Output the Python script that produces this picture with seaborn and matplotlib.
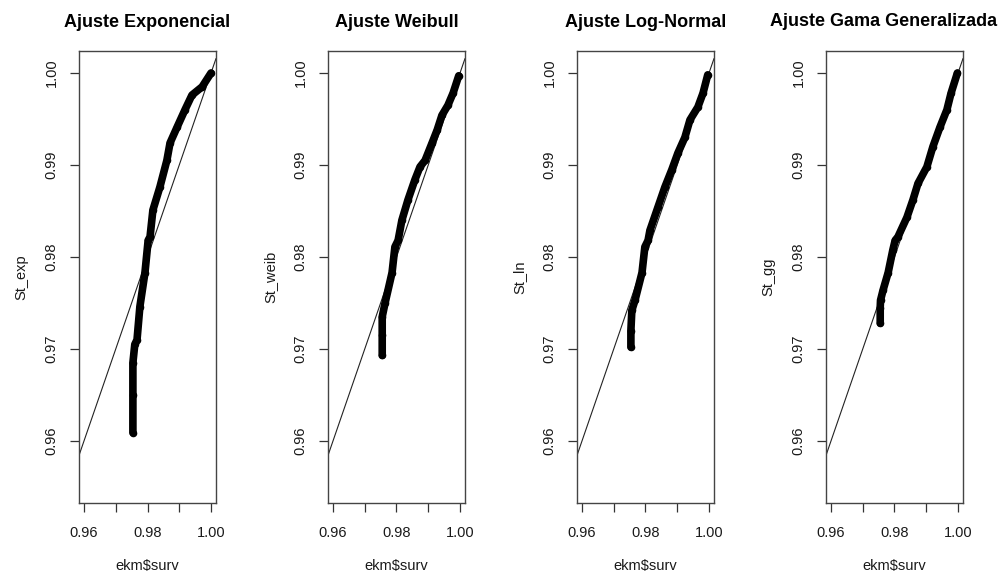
import matplotlib
matplotlib.use("Agg")
import matplotlib.pyplot as plt
import numpy as np
import pandas as pd
import seaborn as sns

# Kaplan-Meier survival (x) against fitted parametric survival (y), per model
km_exp = [0.9754, 0.9754, 0.9754, 0.9760, 0.9767, 0.9776, 0.9792, 0.9802, 0.9808,
          0.9817, 0.9839, 0.9861, 0.9871, 0.9893, 0.9918, 0.9940, 0.9972, 1.0000]
st_exp = [0.9609, 0.9650, 0.9685, 0.9705, 0.9710, 0.9746, 0.9783, 0.9818, 0.9822,
          0.9851, 0.9876, 0.9905, 0.9924, 0.9941, 0.9960, 0.9976, 0.9985, 1.0000]

km_weib = [0.9755, 0.9755, 0.9755, 0.9764, 0.9786, 0.9795, 0.9805, 0.9817, 0.9836,
           0.9858, 0.9874, 0.9890, 0.9912, 0.9928, 0.9943, 0.9962, 0.9978, 0.9996]
st_weib = [0.9693, 0.9715, 0.9735, 0.9750, 0.9783, 0.9811, 0.9818, 0.9840, 0.9862,
           0.9884, 0.9898, 0.9905, 0.9924, 0.9938, 0.9954, 0.9965, 0.9978, 0.9997]

km_ln = [0.9754, 0.9754, 0.9757, 0.9767, 0.9789, 0.9798, 0.9808, 0.9814, 0.9839,
         0.9861, 0.9883, 0.9902, 0.9924, 0.9940, 0.9965, 0.9981, 0.9996]
st_ln = [0.9702, 0.9720, 0.9742, 0.9753, 0.9783, 0.9811, 0.9818, 0.9829, 0.9854,
         0.9876, 0.9895, 0.9913, 0.9930, 0.9949, 0.9963, 0.9978, 0.9998]

km_gg = [0.9755, 0.9755, 0.9756, 0.9764, 0.9780, 0.9795, 0.9802, 0.9811, 0.9839,
         0.9858, 0.9874, 0.9902, 0.9921, 0.9943, 0.9965, 0.9978, 0.9998]
st_gg = [0.9728, 0.9745, 0.9753, 0.9764, 0.9783, 0.9808, 0.9818, 0.9822, 0.9843,
         0.9862, 0.9880, 0.9898, 0.9920, 0.9941, 0.9960, 0.9978, 1.0000]

titles = ["Ajuste Exponencial", "Ajuste Weibull", "Ajuste Log-Normal",
          "Ajuste Gama Generalizada"]
ylabels = ["St_exp", "St_weib", "St_ln", "St_gg"]
xlabel = "ekm$surv"

x_ticks = [0.96, 0.97, 0.98, 0.99, 1.00]
x_ticklabels = ["0.96", "", "0.98", "", "1.00"]
y_ticks = [0.96, 0.97, 0.98, 0.99, 1.00]
y_ticklabels = ["0.96", "0.97", "0.98", "0.99", "1.00"]

series = [(km_exp, st_exp), (km_weib, st_weib), (km_ln, st_ln), (km_gg, st_gg)]

sns.set_theme(style="ticks")
plt.rcParams["font.family"] = ["Liberation Sans", "DejaVu Sans"]

W, H = 1000, 576
fig = plt.figure(figsize=(W / 100, H / 100), dpi=100)
fig.patch.set_facecolor("white")

XLIM = (0.95843, 1.00157)
YLIM = (0.95326, 1.00239)
text_col = "#1a1a1a"

for i, ((xs, ys), title, ylab) in enumerate(zip(series, titles, ylabels)):
    left_px, right_px = 79 + 249 * i, 216 + 249 * i
    top_px, bottom_px = 51, 503
    ax = fig.add_axes([left_px / W, 1 - bottom_px / H,
                       (right_px - left_px) / W, (bottom_px - top_px) / H])
    ax.set_facecolor("white")

    # identity reference line
    ax.axline((0.96, 0.96), slope=1.0, color="#222222", lw=0.8, zorder=2)

    df = pd.DataFrame({"ekm": xs, "st": ys})
    sns.lineplot(data=df, x="ekm", y="st", sort=False, estimator=None,
                 color="black", lw=5.5, solid_capstyle="round",
                 solid_joinstyle="round", ax=ax, zorder=3)
    sns.scatterplot(data=df, x="ekm", y="st", color="black", s=30,
                    edgecolor="black", linewidth=0, ax=ax, zorder=4)

    ax.set_xlim(*XLIM)
    ax.set_ylim(*YLIM)
    ax.set_xticks(x_ticks)
    ax.set_xticklabels(x_ticklabels)
    ax.set_yticks(y_ticks)
    ax.set_yticklabels(y_ticklabels, rotation=90, va="center")
    ax.tick_params(axis="both", direction="out", length=6.5, width=0.9,
                   color="#333333", labelsize=10.5, labelcolor=text_col)
    ax.tick_params(axis="x", pad=10)
    ax.tick_params(axis="y", pad=8)
    for sp in ax.spines.values():
        sp.set_visible(True)
        sp.set_color("#444444")
        sp.set_linewidth(1.0)

    ax.set_xlabel(xlabel, fontsize=10.5, color=text_col, labelpad=14)
    ax.set_ylabel(ylab, fontsize=10.5, color=text_col, labelpad=12)
    if i < len(titles) - 1:
        ax.set_title(title, fontsize=13, fontweight="bold", color="black", pad=17)
    else:
        # last title is long: right-align it inside the figure edge
        fig.text(0.997, 1 - 21 / H, title, ha="right", va="center",
                 fontsize=13, fontweight="bold", color="black")

fig.savefig("out.png", dpi=100, facecolor="white")
